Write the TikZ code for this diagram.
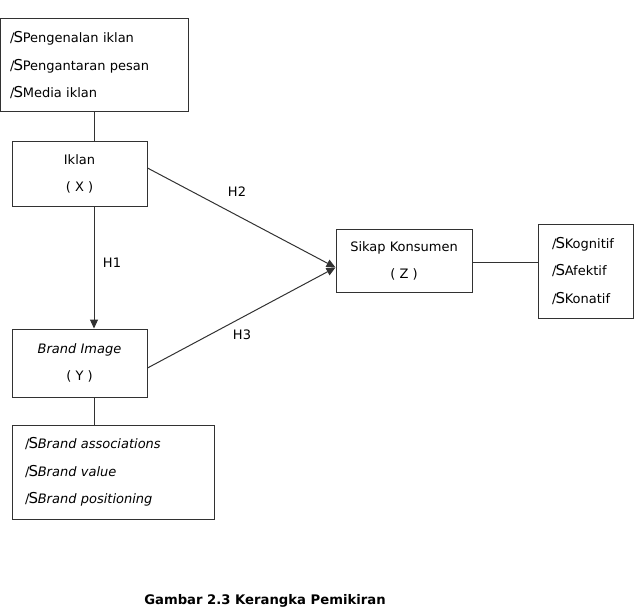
\documentclass[tikz,border=0pt]{standalone}
\usepackage{fontspec}
\setmainfont{DejaVu Sans}
\usepackage{tikz}
\usetikzlibrary{positioning,calc,arrows.meta}
\definecolor{lines}{RGB}{50,50,50}
\newcommand{\bul}{\textup{/\kern-0.8pt{\fontsize{15}{15}\selectfont S}\kern-0.3pt}}

\begin{document}
\begin{tikzpicture}[
    x=1pt, y=-1pt,
    box/.style={draw=lines, line width=1pt, minimum width=135pt, align=center, font=\fontsize{13}{27}\selectfont},
    listbox/.style={draw=lines, line width=1pt, align=left, font=\fontsize{13}{27.5}\selectfont},
    lbl/.style={font=\fontsize{13}{14}\selectfont},
    arrow/.style={draw=lines, line width=1pt, -{Triangle[length=9pt,width=8pt]}},
    link/.style={draw=lines, line width=1pt}
]
\useasboundingbox (0,0) rectangle (638,610);

% Indicators of Iklan
\node[listbox, text width=168pt, inner xsep=10pt, minimum height=93pt] (indx) at (94,65.5)
  {\bul Pengenalan iklan\\ \bul Pengantaran pesan\\ \bul Media iklan};

% Variables
\node[box, minimum height=65pt] (iklan) at (79.5,173.5) {Iklan\\( X )};
\node[box, minimum height=68pt] (brand) at (79.5,363) {\textit{Brand Image}\\( Y )};
\node[box, minimum width=136pt, minimum height=63pt] (sikap) at (404,260.5) {Sikap Konsumen\\( Z )};

% Indicators of Brand Image
\node[listbox, text width=176pt, inner xsep=13pt, minimum height=94pt] (indy) at (113,472)
  {\bul\textit{Brand associations}\\ \bul\textit{Brand value}\\ \bul\textit{Brand positioning}};

% Indicators of Sikap Konsumen
\node[listbox, text width=67pt, inner xsep=14pt, minimum height=94pt] (indz) at (585.5,271)
  {\bul Kognitif\\ \bul Afektif\\ \bul Konatif};

% Connectors
\coordinate (zin) at ([yshift=-7pt]sikap.west);
\draw[link] (indx.south) -- (indx.south |- iklan.north);
\draw[arrow] (iklan.south -| indx.south) -- (brand.north -| indx.south);
\draw[link] (brand.south -| indx.south) -- (indy.north -| indx.south);
\draw[arrow] ([yshift=5.5pt]iklan.east) -- (zin);
\draw[arrow] ([yshift=-5pt]brand.east) -- (zin);
\draw[link] ([yshift=-2pt]sikap.east) -- ([yshift=-2pt]sikap.east -| indz.west);

% Hypotheses
\node[lbl] (h1) at (112,263) {H1};
\node[lbl] (h2) at (237,192) {H2};
\node[lbl] (h3) at (242,335) {H3};

% Caption
\node[font=\fontsize{13.2}{15}\selectfont\bfseries] (cap) at (265,601) {Gambar 2.3 Kerangka Pemikiran};

\end{tikzpicture}
\end{document}
